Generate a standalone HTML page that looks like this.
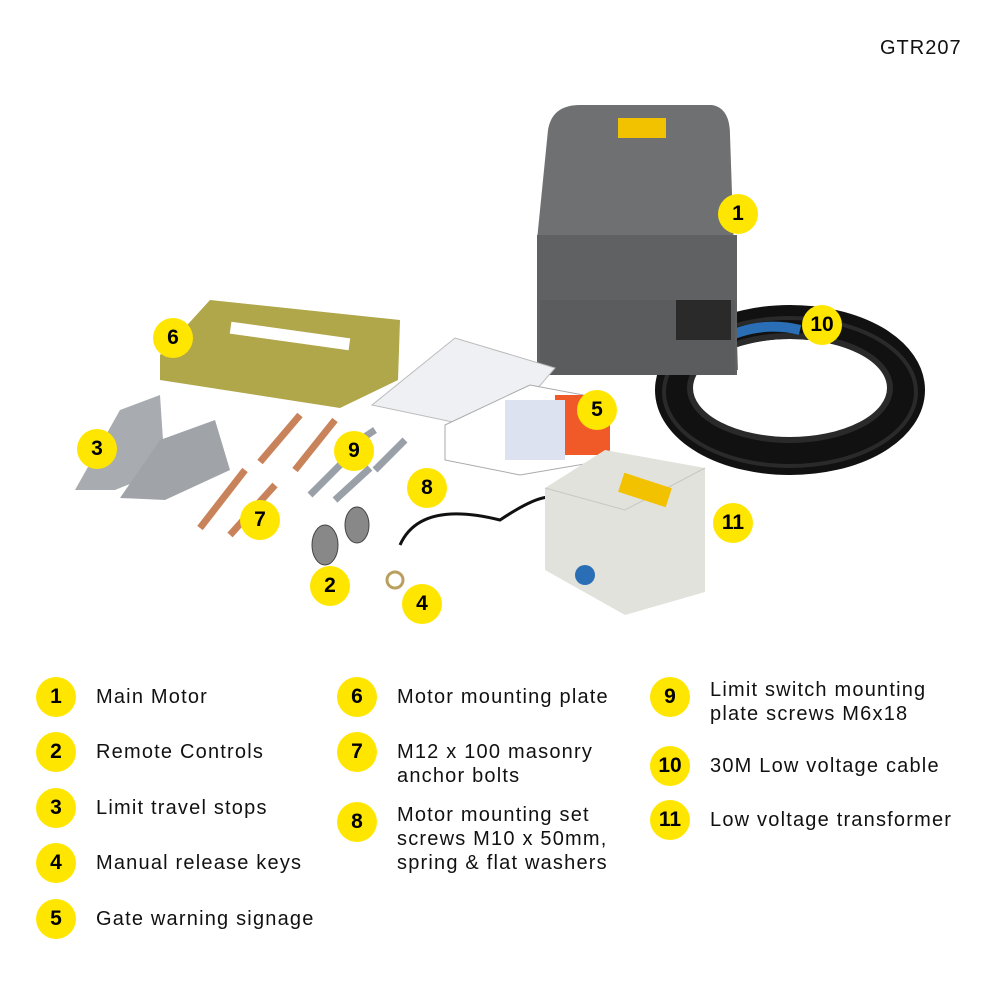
<!DOCTYPE html>
<html><head><meta charset="utf-8"><style>
body{margin:0;width:1000px;height:1000px;background:#fff;position:relative;overflow:hidden;font-family:"Liberation Sans",sans-serif;color:#111}
.b{position:absolute;width:40px;height:40px;border-radius:50%;background:#FFE600;font-weight:900;font-size:21px;line-height:40px;text-align:center;color:#000}
.t{position:absolute;font-size:20px;line-height:24px;color:#111;letter-spacing:1.2px}
</style></head><body>
<svg width="1000" height="660" style="position:absolute;left:0;top:0">
<!-- cable coil -->
<ellipse cx="790" cy="390" rx="118" ry="68" fill="none" stroke="#111" stroke-width="34"/>
<ellipse cx="790" cy="388" rx="100" ry="52" fill="none" stroke="#2a2a2a" stroke-width="6"/>
<ellipse cx="790" cy="392" rx="126" ry="74" fill="none" stroke="#2a2a2a" stroke-width="4"/>
<path d="M720 340 Q760 320 800 330" stroke="#2a6fb5" stroke-width="10" fill="none"/>
<!-- motor -->
<path d="M548 130 Q552 105 580 105 L712 105 Q730 108 730 135 L738 370 L540 375 L537 240 Z" fill="#6e7072"/>
<rect x="537" y="235" width="200" height="140" fill="#5f6163"/>
<rect x="540" y="300" width="195" height="75" fill="#5a5c5e"/>
<rect x="618" y="118" width="48" height="20" fill="#f2c200"/>
<rect x="676" y="300" width="55" height="40" fill="#2a2a2a"/>
<!-- plate -->
<path d="M160 355 L210 300 L400 320 L398 380 L340 408 L160 380 Z" fill="#b0a64a"/>
<rect x="230" y="330" width="120" height="12" fill="#fff" transform="rotate(8 290 336)"/>
<!-- stops -->
<path d="M120 410 L160 395 L165 470 L115 490 L75 490 Z" fill="#a8acb0"/>
<path d="M160 440 L215 420 L230 470 L165 500 L120 498 Z" fill="#a0a4a8"/>
<!-- bolts -->
<g stroke="#c9835a" stroke-width="7">
<line x1="260" y1="462" x2="300" y2="415"/><line x1="295" y1="470" x2="335" y2="420"/>
<line x1="200" y1="528" x2="245" y2="470"/><line x1="230" y1="535" x2="275" y2="485"/>
</g>
<g stroke="#9aa0a8" stroke-width="7">
<line x1="310" y1="495" x2="345" y2="460"/><line x1="335" y1="500" x2="370" y2="468"/>
<line x1="375" y1="470" x2="405" y2="440"/><line x1="360" y1="440" x2="375" y2="430"/>
</g>
<!-- manual -->
<path d="M372 405 L455 338 L555 368 L500 432 Z" fill="#eef0f4" stroke="#bbb"/>
<path d="M445 425 L530 385 L610 400 L608 460 L520 475 L445 460 Z" fill="#fff" stroke="#aaa"/>
<rect x="555" y="395" width="55" height="60" fill="#f05a28"/>
<rect x="505" y="400" width="60" height="60" fill="#dde2f0"/>
<!-- transformer -->
<path d="M400 545 Q420 500 500 520 Q560 480 560 510" stroke="#111" stroke-width="3" fill="none"/>
<path d="M545 488 L605 450 L705 468 L705 592 L625 615 L545 570 Z" fill="#e2e2dc"/>
<path d="M545 488 L625 510 L705 468" stroke="#c8c8c0" fill="none"/>
<rect x="620" y="480" width="50" height="20" fill="#f2c200" transform="rotate(18 645 490)"/>
<circle cx="585" cy="575" r="10" fill="#2a6fb5"/>
<!-- remotes -->
<ellipse cx="325" cy="545" rx="13" ry="20" fill="#888" stroke="#444"/>
<ellipse cx="357" cy="525" rx="12" ry="18" fill="#888" stroke="#444"/>
<circle cx="395" cy="580" r="8" fill="none" stroke="#b9a060" stroke-width="3"/>
</svg>
<div style="position:absolute;left:880px;top:37px;font-size:20px;letter-spacing:1px">GTR207</div>
<div class="b" style="left:718px;top:194px">1</div>
<div class="b" style="left:802px;top:305px">10</div>
<div class="b" style="left:153px;top:318px">6</div>
<div class="b" style="left:577px;top:390px">5</div>
<div class="b" style="left:77px;top:429px">3</div>
<div class="b" style="left:334px;top:431px">9</div>
<div class="b" style="left:407px;top:468px">8</div>
<div class="b" style="left:240px;top:500px">7</div>
<div class="b" style="left:713px;top:503px">11</div>
<div class="b" style="left:310px;top:566px">2</div>
<div class="b" style="left:402px;top:584px">4</div>

<div class="b" style="left:36px;top:677px">1</div><div class="t" style="left:96px;top:685px">Main Motor</div>
<div class="b" style="left:36px;top:732px">2</div><div class="t" style="left:96px;top:740px">Remote Controls</div>
<div class="b" style="left:36px;top:788px">3</div><div class="t" style="left:96px;top:796px">Limit travel stops</div>
<div class="b" style="left:36px;top:843px">4</div><div class="t" style="left:96px;top:851px">Manual release keys</div>
<div class="b" style="left:36px;top:899px">5</div><div class="t" style="left:96px;top:907px">Gate warning signage</div>

<div class="b" style="left:337px;top:677px">6</div><div class="t" style="left:397px;top:685px">Motor mounting plate</div>
<div class="b" style="left:337px;top:732px">7</div><div class="t" style="left:397px;top:740px">M12 x 100 masonry<br>anchor bolts</div>
<div class="b" style="left:337px;top:802px">8</div><div class="t" style="left:397px;top:803px">Motor mounting set<br>screws M10 x 50mm,<br>spring &amp; flat washers</div>

<div class="b" style="left:650px;top:677px">9</div><div class="t" style="left:710px;top:678px">Limit switch mounting<br>plate screws M6x18</div>
<div class="b" style="left:650px;top:746px">10</div><div class="t" style="left:710px;top:754px">30M Low voltage cable</div>
<div class="b" style="left:650px;top:800px">11</div><div class="t" style="left:710px;top:808px">Low voltage transformer</div>
</body></html>
